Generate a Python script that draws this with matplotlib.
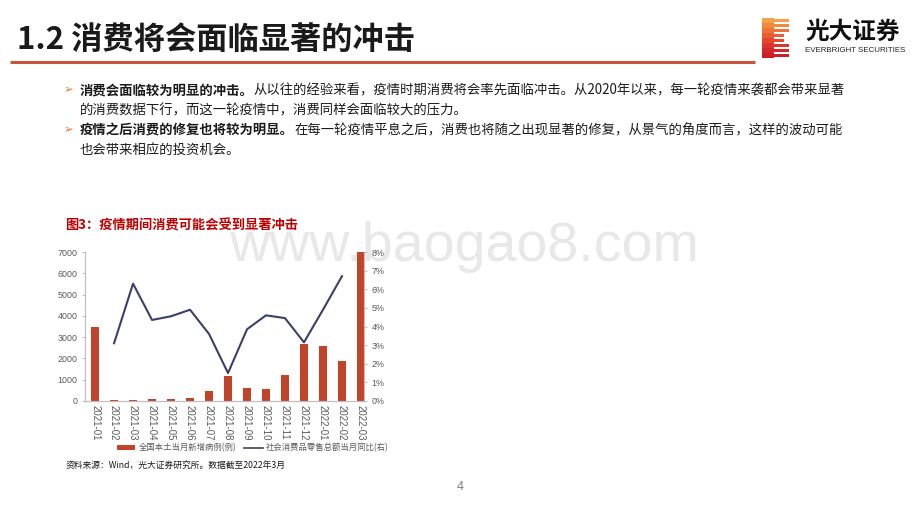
import matplotlib
matplotlib.use("Agg")
import matplotlib.pyplot as plt
from matplotlib.patches import Rectangle
from matplotlib.ticker import FuncFormatter, MultipleLocator
import numpy as np

plt.rcParams['font.family'] = ['Noto Sans CJK SC', 'DejaVu Sans']

# ---- data ----
months = ['2021-01', '2021-02', '2021-03', '2021-04', '2021-05', '2021-06', '2021-07',
          '2021-08', '2021-09', '2021-10', '2021-11', '2021-12', '2022-01', '2022-02', '2022-03']
new_cases = [3500, 60, 30, 95, 110, 155, 470, 1190, 595, 560, 1220, 2670, 2580, 1875, 7000]
retail_yoy = [np.nan, 3.1, 6.3, 4.35, 4.55, 4.9, 3.6, 1.5, 3.85, 4.6, 4.45, 3.15, 4.9, 6.7, np.nan]

page_title = '1.2 消费将会面临显著的冲击'
bullets = [
    ('消费会面临较为明显的冲击。',
     '从以往的经验来看，疫情时期消费将会率先面临冲击。从2020年以来，每一轮疫情来袭都会带来显著',
     '的消费数据下行，而这一轮疫情中，消费同样会面临较大的压力。'),
    ('疫情之后消费的修复也将较为明显。',
     '在每一轮疫情平息之后，消费也将随之出现显著的修复，从景气的角度而言，这样的波动可能',
     '也会带来相应的投资机会。'),
]
chart_title = '图3：疫情期间消费可能会受到显著冲击'
legend_labels = ['全国本土当月新增病例(例)', '社会消费品零售总额当月同比(右)']
source = '资料来源：Wind，光大证券研究所。数据截至2022年3月'

bar_color = '#C0432A'
line_color = '#3E3E6C'
red = '#C00000'
grey = '#595959'

fig = plt.figure(figsize=(9.2, 5.18), dpi=100)
fig.patch.set_facecolor('white')

# page layer in pixel coordinates
bg = fig.add_axes([0, 0, 1, 1], zorder=-1)
bg.set_xlim(0, 920)
bg.set_ylim(518, 0)
bg.axis('off')

bg.text(17, 40, page_title, fontsize=22.5, fontweight='bold', color='#1A1A1A', va='center')
bg.plot([10, 755], [61.5, 61.5], color='#C8553D', lw=2.2, solid_capstyle='butt')

# logo
grad = ['#F5A04A', '#F28A3E', '#EE7336', '#E95D31', '#E3482D', '#DC352B', '#D52629', '#CE1E26']
for i, c in enumerate(grad):
    y0 = 18 + i * 5
    bg.add_patch(Rectangle((762, y0), 12, 5, color=c, lw=0))
    right = 789 if i not in (3, 4) else 784
    bg.add_patch(Rectangle((774, y0 + 0.6), right - 774, 3.2, color=c, lw=0))
bg.text(805, 32, '光大证券', fontsize=17, fontweight='bold', color='#111111', va='center')
bg.text(805, 50, 'EVERBRIGHT SECURITIES', fontsize=5.7, color='#222222', va='center',
        family=['Liberation Sans', 'DejaVu Sans'])

# bullets
ys = [90, 130]
for (bold, rest, cont), y in zip(bullets, ys):
    bg.text(64, y, '➢', fontsize=8.5, color='#E07B39', va='center', family=['DejaVu Sans'])
    t1 = bg.text(80, y + 7, bold, fontsize=9.6, fontweight='bold', color='#1A1A1A', va='bottom')
    bg.annotate(rest, xy=(1, 0), xycoords=t1, va='bottom', ha='left', fontsize=9.6, color='#1A1A1A')
    bg.text(80, y + 20, cont, fontsize=9.6, color='#1A1A1A', va='center')

# watermark
bg.text(229, 261, 'www.baogao8.com', fontsize=40, color='#E8E8E8',
        family=['Liberation Sans', 'DejaVu Sans'], va='baseline', zorder=0)

bg.text(65, 226, chart_title, fontsize=9.5, fontweight='bold', color=red, va='center')

# chart
ax = fig.add_axes([85 / 920, 1 - 401 / 518, 279 / 920, 149 / 518], zorder=1)
ax.patch.set_visible(False)
x = np.arange(len(months))
bars = ax.bar(x, new_cases, width=0.42, color=bar_color, zorder=2)
ax.set_xlim(-0.53, 14.16)
ax.set_ylim(0, 7000)
ax.yaxis.set_major_locator(MultipleLocator(1000))
ax.set_xticks(x)
ax.set_xticklabels(months, rotation=-90, fontsize=6.9, color=grey,
                   family=['Liberation Sans', 'DejaVu Sans'])
ax.tick_params(axis='y', labelsize=6.4, labelcolor=grey, length=2, color='#BFBFBF')
ax.tick_params(axis='x', length=0, pad=3)
for lbl in ax.get_yticklabels():
    lbl.set_family(['Liberation Sans', 'DejaVu Sans'])
ax.spines['top'].set_visible(False)
for s in ['left', 'bottom', 'right']:
    ax.spines[s].set_color('#BFBFBF')
    ax.spines[s].set_linewidth(0.8)

ax2 = ax.twinx()
ax2.set_zorder(2)
ax2.patch.set_visible(False)
line, = ax2.plot(x, retail_yoy, color=line_color, lw=1.5, zorder=3)
ax2.set_ylim(0, 8)
ax2.yaxis.set_major_locator(MultipleLocator(1))
ax2.yaxis.set_major_formatter(FuncFormatter(lambda v, p: f'{v:.0f}%'))
ax2.tick_params(axis='y', labelsize=6.4, labelcolor=grey, length=2, color='#BFBFBF')
for lbl in ax2.get_yticklabels():
    lbl.set_family(['Liberation Sans', 'DejaVu Sans'])
ax2.spines['top'].set_visible(False)
for s in ['left', 'bottom', 'right']:
    ax2.spines[s].set_color('#BFBFBF')
    ax2.spines[s].set_linewidth(0.8)

# legend
bg.add_patch(Rectangle((117, 445), 18, 5, color=bar_color, lw=0))
bg.text(139, 447.5, legend_labels[0], fontsize=6, color=grey, va='center')
bg.plot([244, 263], [447.5, 447.5], color=line_color, lw=1.2)
bg.text(266, 447.5, legend_labels[1], fontsize=6, color=grey, va='center')

bg.text(66, 466, source, fontsize=6.3, color='#1A1A1A', va='center')
bg.text(460, 487, '4', fontsize=9, color='#7F7F7F', va='center', ha='center',
        family=['Liberation Sans', 'DejaVu Sans'])

fig.savefig('out.png', dpi=100)
